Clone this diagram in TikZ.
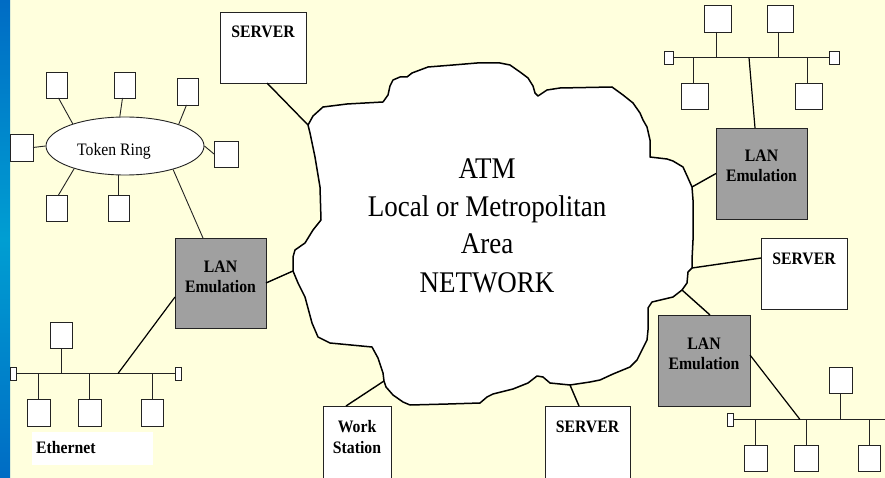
\documentclass[tikz,border=0pt]{standalone}
\usepackage{fontspec}
\setmainfont{Liberation Serif}[FakeStretch=0.9]
\usetikzlibrary{shapes.geometric,calc}
\definecolor{bgyellow}{RGB}{255,255,221}
\definecolor{langray}{RGB}{160,160,160}
\definecolor{stripeA}{RGB}{0,108,196}
\definecolor{stripeB}{RGB}{0,158,210}
\definecolor{edgec}{RGB}{35,35,35}
\newcommand\smallbox[5]{\node[sbox,minimum width=#4pt,minimum height=#5pt] (#1) at (#2,#3) {};}
\begin{document}
\begin{tikzpicture}[x=1pt,y=-1pt,
  sbox/.style={draw=edgec,line width=0.9pt,fill=white,inner sep=0pt,outer sep=0pt,anchor=north west},
  term/.style={draw=edgec,line width=0.8pt,fill=white,inner sep=0pt,outer sep=0pt,anchor=north west},
  bigbox/.style={draw=edgec,line width=0.9pt,fill=white,inner sep=0pt,outer sep=0pt,anchor=north west},
  lanbox/.style={bigbox,fill=langray},
  lbl/.style={font=\fontsize{17.5}{20}\selectfont\bfseries,anchor=base,inner sep=0pt},
  cloudtxt/.style={font=\fontsize{30}{36}\selectfont,anchor=base,inner sep=0pt},
  thin/.style={draw=edgec,line width=0.9pt},
  link/.style={draw=black,line width=1.4pt}]
\useasboundingbox (0,0) rectangle (885,478);
\fill[bgyellow] (0,0) rectangle (885,478);
\shade[top color=stripeA,bottom color=stripeA,middle color=stripeB] (0,0) rectangle (10,478);

% ---------- Token ring ----------
\node[draw=edgec,line width=0.9pt,fill=white,ellipse,minimum width=158pt,minimum height=58pt,inner sep=0pt] (tr) at (125,146) {};
\node[font=\fontsize{17.5}{20}\selectfont,anchor=base,inner sep=0pt] (trtxt) at (114,156) {Token Ring};
\smallbox{t1}{46}{72}{21}{26}
\smallbox{t2}{114}{72}{21}{26}
\smallbox{t3}{177}{78}{21}{27}
\smallbox{t4}{10}{134}{23}{27}
\smallbox{t5}{214}{141}{24}{26}
\smallbox{t6}{46}{195}{21}{26}
\smallbox{t7}{108}{195}{21}{26}
\draw[thin] ($(t1.south)+(2,0)$) -- (tr.157);
\draw[thin] ($(t2.south)+(-2,0)$) -- (tr.100);
\draw[thin] ($(t3.south)+(-1,0)$) -- (tr.22);
\draw[thin] (t4.east) -- (tr.west);
\draw[thin] (t5.west) -- (tr.east);
\draw[thin] ($(t6.north)+(2,0)$) -- (tr.204);
\draw[thin] (t7.north) -- (t7.north |- tr.south);

% ---------- Left LAN emulation + Ethernet ----------
\node[lanbox,minimum width=91pt,minimum height=90pt] (lan1) at (175,238) {};
\node[lbl] (lan1a) at ($(lan1.north)+(0,34)$) {LAN};
\node[lbl] (lan1b) at ($(lan1.north)+(0,54)$) {Emulation};
\draw[thin] (tr.334) -- ($(lan1.north west)+(28,0)$);

\node[term,minimum width=6pt,minimum height=13pt] (el) at (10,367) {};
\node[term,minimum width=6pt,minimum height=13pt] (er) at (175,367) {};
\draw[thin] (el.east) -- (er.west);
\coordinate (eb) at (118,373.5);
\smallbox{e1}{50}{322}{22}{26}
\smallbox{e2}{27}{399}{23}{27}
\smallbox{e3}{78}{399}{23}{27}
\smallbox{e4}{141}{399}{22}{27}
\draw[thin] (e1.south) -- (e1.south |- el.east);
\draw[thin] (e2.north) -- (e2.north |- el.east);
\draw[thin] (e3.north) -- (e3.north |- el.east);
\draw[thin] (e4.north) -- (e4.north |- el.east);
\draw[link,line width=1.2pt] (eb) -- ($(lan1.south west)+(0,-31)$);
\node[fill=white,inner sep=0pt,minimum width=121pt,minimum height=33pt,anchor=north west] (ethbg) at (32,432) {};
\node[lbl,anchor=base west] (ethtxt) at (36,453) {Ethernet};

% ---------- Top right Ethernet + LAN emulation ----------
\node[term,minimum width=9pt,minimum height=13pt] (tl) at (664,51) {};
\node[term,minimum width=10pt,minimum height=13pt] (trt) at (829,51) {};
\draw[thin] (tl.east) -- (trt.west);
\coordinate (tb) at (749,57.5);
\smallbox{r1}{704}{5}{27}{27}
\smallbox{r2}{767}{5}{26}{27}
\smallbox{r3}{681}{83}{27}{26}
\smallbox{r4}{795}{83}{27}{26}
\draw[thin] ($(r1.south)+(-1,0)$) -- ($(r1.south |- tl.east)+(-1,0)$);
\draw[thin] ($(r2.south)+(-2,0)$) -- ($(r2.south |- tl.east)+(-2,0)$);
\draw[thin] ($(r3.north)+(-1,0)$) -- ($(r3.north |- tl.east)+(-1,0)$);
\draw[thin] ($(r4.north)+(-1,0)$) -- ($(r4.north |- tl.east)+(-1,0)$);
\node[lanbox,minimum width=91pt,minimum height=91pt] (lan2) at (716,128) {};
\node[lbl] (lan2a) at ($(lan2.north)+(0,34)$) {LAN};
\node[lbl] (lan2b) at ($(lan2.north)+(0,54)$) {Emulation};
\draw[link,line width=1.2pt] (tb) -- ($(lan2.north west)+(39,0)$);

% ---------- Servers ----------
\node[bigbox,minimum width=86pt,minimum height=71pt] (s1) at (220,12) {};
\node[lbl] (s1t) at ($(s1.north)+(0,26)$) {SERVER};
\node[bigbox,minimum width=86pt,minimum height=71pt] (s2) at (761,238) {};
\node[lbl] (s2t) at ($(s2.north)+(0,26)$) {SERVER};
\node[bigbox,minimum width=85pt,minimum height=74pt] (s3) at (545,406) {};
\node[lbl] (s3t) at ($(s3.north)+(0,26)$) {SERVER};
\node[bigbox,minimum width=68pt,minimum height=74pt] (ws) at (323,406) {};
\node[lbl] (wsa) at ($(ws.north)+(0,26)$) {Work};
\node[lbl] (wsb) at ($(ws.north)+(0,47)$) {Station};

% ---------- Bottom right LAN emulation + Ethernet ----------
\node[lanbox,minimum width=92pt,minimum height=91pt] (lan3) at (658,315) {};
\node[lbl] (lan3a) at ($(lan3.north)+(0,34)$) {LAN};
\node[lbl] (lan3b) at ($(lan3.north)+(0,54)$) {Emulation};
\node[term,minimum width=6pt,minimum height=13pt] (bl) at (727,413) {};
\coordinate (busend) at (886,419.5);
\draw[thin] (bl.east) -- (busend);
\coordinate (bb) at (800,419.5);
\smallbox{b1}{829}{367}{23}{26}
\smallbox{b2}{744}{445}{23}{26}
\smallbox{b3}{794}{445}{24}{26}
\smallbox{b4}{858}{445}{22}{26}
\draw[thin] (b1.south) -- (b1.south |- bl.east);
\draw[thin] (b2.north) -- (b2.north |- bl.east);
\draw[thin] (b3.north) -- (b3.north |- bl.east);
\draw[thin] (b4.north) -- (b4.north |- bl.east);
\draw[link,line width=1.2pt] ($(lan3.north east)+(0,40)$) -- (bb);

% ---------- Cloud ----------
\draw[fill=white,line width=1.5pt,line join=round]
  (308,125) coordinate (cs1) -- (313,116) -- (323,107) -- (347,104) -- (383,102) -- (388,95) -- (390,86) -- (393,80) -- (400,77) -- (407,77) -- (412,73) -- (420,70) -- (428,67) -- (453,65) -- (477,63) -- (500,63) -- (510,65) -- (520,72) -- (528,78) -- (533,86) -- (535,93) -- (538,96) -- (547,90) -- (560,88) -- (612,87) -- (623,95) -- (633,103) -- (640,113) -- (643,120) -- (647,127) -- (650,140) -- (650,157) -- (667,159) -- (673,161) -- (683,167) -- (688,178) -- (692,187) coordinate (clan2) -- (693,200) -- (693,240) -- (692,260) -- (692,268) coordinate (cs2) -- (688,272) -- (687,283) -- (682,290) coordinate (clan3) -- (673,297) -- (652,302) -- (648,308) -- (648,330) -- (647,340) -- (642,350) -- (637,360) -- (630,367) -- (613,374) -- (600,380) -- (590,382) -- (570,385) coordinate (cs3) -- (550,383) -- (543,377) -- (537,376) -- (528,383) -- (513,389) -- (493,394) -- (487,397) -- (480,403) -- (448,404) -- (410,405) -- (403,402) -- (393,395) -- (386,387) -- (384,381) coordinate (cws) -- (383,373) -- (378,358) -- (372,347) -- (330,343) -- (318,337) -- (312,323) -- (305,297) -- (298,283) -- (293,271) coordinate (clan1) -- (293,257) -- (295,250) -- (305,243) -- (313,230) -- (321,220) -- (320,187) -- (315,157) -- (310,133) -- cycle;
\node[cloudtxt] (ct1) at (487,179) {ATM};
\node[cloudtxt] (ct2) at (487,217) {Local or Metropolitan};
\node[cloudtxt] (ct3) at (487,254) {Area};
\node[cloudtxt] (ct4) at (487,292) {NETWORK};

% ---------- Links to cloud ----------
\draw[link] ($(s1.south)+(4,0)$) -- (cs1);
\draw[link] (lan1.east) -- (clan1);
\draw[link] (lan2.west) -- (clan2);
\draw[link] ($(s2.north west)+(0,20)$) -- (cs2);
\draw[link] (clan3) -- ($(lan3.north west)+(52,0)$);
\draw[link] ($(ws.north west)+(23,0)$) -- (cws);
\draw[link] (cs3) -- ($(s3.north west)+(34,0)$);
\end{tikzpicture}
\end{document}
